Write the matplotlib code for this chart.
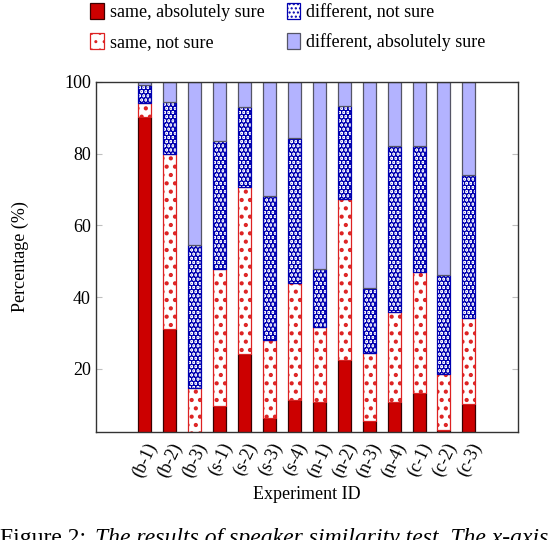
import matplotlib.pyplot as plt
import numpy as np

plt.rcParams['font.family'] = ['Liberation Serif', 'DejaVu Serif']

experiments = ['(b-1)', '(b-2)', '(b-3)', '(s-1)', '(s-2)', '(s-3)', '(s-4)',
               '(n-1)', '(n-2)', '(n-3)', '(n-4)', '(c-1)', '(c-2)', '(c-3)']

# percentages per answer category
same_sure = [90.3, 31.1, 0.0, 9.7, 24.1, 6.2, 11.3,
             10.7, 22.5, 5.5, 10.7, 13.2, 3.1, 10.2]
same_not_sure = [3.9, 48.8, 14.8, 38.1, 46.6, 21.9, 32.7,
                 21.0, 44.7, 19.0, 25.1, 33.9, 15.4, 24.1]
diff_not_sure = [4.9, 14.4, 39.6, 35.8, 22.2, 40.2, 40.3,
                 16.0, 26.1, 18.0, 46.2, 34.9, 27.6, 39.7]
diff_sure = [0.9, 5.7, 45.6, 16.4, 7.1, 31.7, 15.7,
             52.3, 6.7, 57.5, 18.0, 18.0, 53.9, 26.0]

fig = plt.figure(figsize=(5.54, 5.40), dpi=100)
ax = fig.add_axes([0.173, 0.2006, 0.762, 0.648])

x = np.arange(len(experiments))
w = 0.52
bottom = np.zeros(len(x))

series = [
    (same_sure, 'same, absolutely sure', 1.0,
     dict(color='#cc0000', edgecolor='#3a0000')),
    (same_not_sure, 'same, not sure', 1.8,
     dict(color='white', edgecolor='#dd2222', hatch='..')),
    (diff_not_sure, 'different, not sure', 3.2,
     dict(color='white', edgecolor='#0000b0', hatch='....')),
    (diff_sure, 'different, absolutely sure', 1.0,
     dict(color='#b3b3ff', edgecolor='#555566')),
]

handles = []
for vals, label, hlw, style in series:
    vals = np.array(vals)
    with plt.rc_context({'hatch.linewidth': hlw}):
        b = ax.bar(x, vals, w, bottom=bottom, label=label, linewidth=0.9, **style)
    handles.append(b)
    bottom += vals

ax.set_xlim(-1.97, 14.97)
ax.set_ylim(2.5, 100)
ax.set_yticks([20, 40, 60, 80, 100])
ax.set_xticks(x)
ax.set_xticklabels(experiments, rotation=65, ha='right', rotation_mode='anchor')
ax.tick_params(axis='y', direction='in', right=True, color='0.75', length=4, labelsize=13)
ax.tick_params(axis='x', length=0, labelsize=13, pad=6)
for s in ax.spines.values():
    s.set_color('#333333')
    s.set_linewidth(1.0)

ax.set_xlabel('Experiment ID', fontsize=13)
ax.set_ylabel('Percentage (%)', fontsize=13, labelpad=25)

fig.legend(handles=handles, loc='upper center', bbox_to_anchor=(0.52, 1.025),
           ncol=2, frameon=False, fontsize=13, handlelength=0.75,
           handleheight=1.0, handletextpad=0.35, columnspacing=1.2,
           labelspacing=0.65)

fig.text(0.0, -0.016, 'Figure 2:', fontsize=17, va='bottom', ha='left')
fig.text(0.172, -0.016, 'The results of speaker similarity test. The x-axis',
         fontsize=17, style='italic', va='bottom', ha='left')

fig.savefig('out.png', dpi=100)
